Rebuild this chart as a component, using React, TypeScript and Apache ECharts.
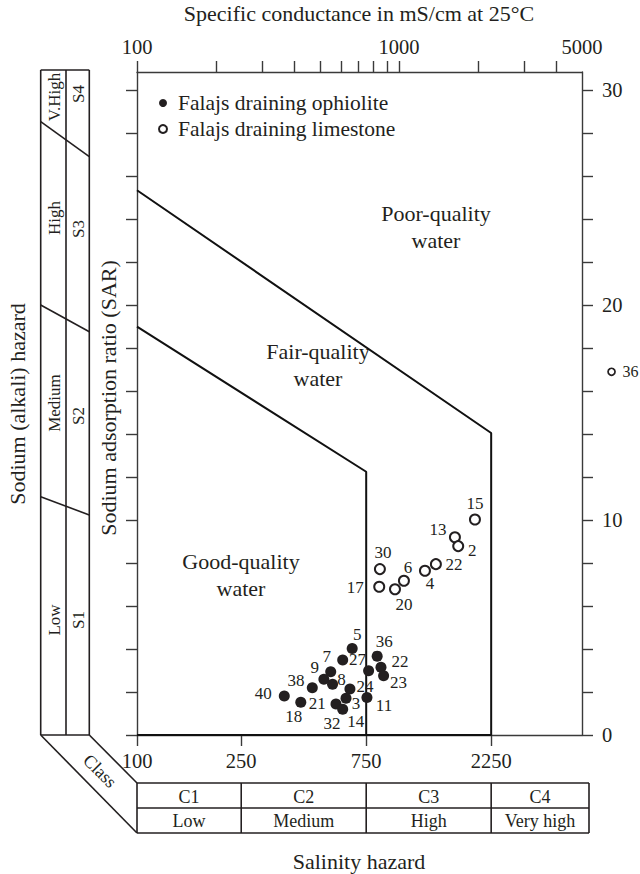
import React, { useEffect, useRef } from 'react';
import * as echarts from 'echarts';

const FONT = '"Liberation Serif", "DejaVu Serif", serif';
const INK = '#231f20';
const FRAME = '#3a3a3a';

// ---- axes ----
const EC_MIN = 100;
const EC_MAX = 5000;
const SAR_MIN = 0;
const SAR_MAX = 30.85;
const topTickValues = [100, 200, 300, 400, 500, 600, 700, 800, 900, 1000, 2000, 3000, 4000];
const topLabelValues = [100, 1000, 5000];
const bottomTickValues = [100, 250, 750, 2250];
const sarTickValues = [0, 2, 4, 6, 8, 10, 12, 14, 16, 18, 20, 22, 24, 26, 28, 30];
const sarLabelValues = [0, 10, 20, 30];

// ---- samples ----
const ophioliteIds = ['5', '7', '27', '36', '22', '23', '9', '38', '8', '21', '24', '3', '11', '32', '14', '18', '40'];
const ophioliteEC = [663, 610, 766, 826, 854, 874, 549, 517, 558, 467, 650, 628, 755, 575, 610, 422, 365];
const ophioliteSAR = [4.03, 3.49, 2.99, 3.67, 3.15, 2.76, 2.94, 2.59, 2.36, 2.2, 2.14, 1.71, 1.75, 1.44, 1.2, 1.52, 1.81];

const limestoneIds = ['15', '13', '2', '22', '4', '30', '6', '20', '17', '36'];
const limestoneEC = [1951, 1636, 1684, 1384, 1257, 846, 1045, 966, 841, 6483];
const limestoneSAR = [10.03, 9.2, 8.79, 7.95, 7.64, 7.72, 7.18, 6.78, 6.9, 16.9];

// ---- water-quality boundaries ----
const goodBoundaryEC = [100, 750, 750];
const goodBoundarySAR = [19.0, 12.25, 0];
const poorBoundaryEC = [100, 2250, 2250, 100];
const poorBoundarySAR = [25.35, 14.05, 0, 0];

// ---- class tables ----
const salinityBreaks = [250, 750, 2250];
const salinityClasses = ['C1', 'C2', 'C3', 'C4'];
const salinityLevels = ['Low', 'Medium', 'High', 'Very high'];
const sodiumClasses = ['S1', 'S2', 'S3', 'S4'];
const sodiumLevels = ['Low', 'Medium', 'High', 'V.High'];

// ---- label placement (style only) ----
const ophLabelOffset: Record<string, [number, number]> = {
  '5': [5, -14], '7': [-16, -3], '27': [-11, -11], '36': [7, -15], '22': [19, -6], '23': [15, 7],
  '9': [-16, -4], '38': [-28, 1], '8': [9, -5], '21': [5, 16], '24': [15, -3], '3': [10, 5],
  '11': [17, 8], '32': [-4, 19], '14': [13, 12], '18': [-7, 14], '40': [-21, -3],
};
const limLabelOffset: Record<string, [number, number]> = {
  '15': [0, -16], '13': [-17, -8], '2': [14, 4], '22': [18, 0], '4': [5, 13], '30': [3, -17],
  '6': [4, -13], '20': [9, 15], '17': [-24, 1], '36': [19, 0],
};

const L = (v: number) => Math.log10(v);

export default function App() {
  const ref = useRef<HTMLDivElement>(null);

  useEffect(() => {
    document.body.style.margin = '0';
    const chart = echarts.init(ref.current!, undefined, { renderer: 'svg' });
    const fmt = (v: number) => String(Math.round(Math.pow(10, v)));
    const axisLine = { show: true, onZero: false, lineStyle: { color: FRAME, width: 1.4 } };
    const tick = (vals: number[]) => ({
      show: true, inside: false, length: 11, customValues: vals,
      lineStyle: { color: FRAME, width: 1.4 },
    });
    const labelStyle = { fontFamily: FONT, fontSize: 20.5, color: INK };

    const pointLabel = (id: string, off: [number, number], size: number) => ({
      show: true, position: 'inside', offset: off, formatter: id,
      fontFamily: FONT, fontSize: size, color: INK, opacity: 1,
    });

    const option: any = {
      animation: false,
      backgroundColor: '#fff',
      grid: { left: 137, right: 58, top: 72, bottom: 139, containLabel: false },
      xAxis: [
        {
          type: 'value', position: 'bottom', min: L(EC_MIN), max: L(EC_MAX),
          axisLine, axisTick: tick(bottomTickValues.map(L)),
          axisLabel: { ...labelStyle, customValues: bottomTickValues.map(L), formatter: fmt, margin: 15 },
          splitLine: { show: false },
        },
        {
          type: 'value', position: 'top', min: L(EC_MIN), max: L(EC_MAX),
          axisLine, axisTick: tick(topTickValues.map(L)),
          axisLabel: { ...labelStyle, customValues: topLabelValues.map(L), formatter: fmt, margin: 15 },
          splitLine: { show: false },
        },
      ],
      yAxis: [
        {
          type: 'value', position: 'left', min: SAR_MIN, max: SAR_MAX,
          axisLine, axisTick: tick(sarTickValues), axisLabel: { show: false }, splitLine: { show: false },
        },
        {
          type: 'value', position: 'right', min: SAR_MIN, max: SAR_MAX,
          axisLine, axisTick: tick(sarTickValues),
          axisLabel: { ...labelStyle, customValues: sarLabelValues, margin: 20 },
          splitLine: { show: false },
        },
      ],
      legend: {
        data: ['Falajs draining ophiolite', 'Falajs draining limestone'],
        orient: 'vertical', left: 153, top: 87, itemGap: 4, itemWidth: 20, itemHeight: 8,
        textStyle: { fontFamily: FONT, fontSize: 21.5, color: INK, lineHeight: 21 },
        selectedMode: false,
      },
      series: [
        {
          name: 'Good boundary', type: 'line', xAxisIndex: 0, yAxisIndex: 0, silent: true,
          symbol: 'none', lineStyle: { color: '#111', width: 2 }, z: 2,
          data: goodBoundaryEC.map((v, i) => [L(v), goodBoundarySAR[i]]),
        },
        {
          name: 'Poor boundary', type: 'line', xAxisIndex: 0, yAxisIndex: 0, silent: true,
          symbol: 'none', lineStyle: { color: '#111', width: 2 }, z: 2,
          data: poorBoundaryEC.map((v, i) => [L(v), poorBoundarySAR[i]]),
        },
        {
          name: 'Falajs draining ophiolite', type: 'scatter', xAxisIndex: 0, yAxisIndex: 0, z: 3,
          symbol: 'circle', symbolSize: 11, itemStyle: { color: INK, opacity: 1 },
          data: ophioliteIds.map((id, i) => ({
            name: id, value: [L(ophioliteEC[i]), ophioliteSAR[i]],
            label: pointLabel(id, ophLabelOffset[id] || [0, -14], 17),
          })),
        },
        {
          name: 'Falajs draining limestone', type: 'scatter', xAxisIndex: 0, yAxisIndex: 0, z: 3,
          clip: false, symbol: 'circle', symbolSize: 10,
          itemStyle: { color: '#fff', borderColor: INK, borderWidth: 2, opacity: 1 },
          data: limestoneIds.map((id, i) => {
            const off = limLabelOffset[id] || [0, -14];
            const outside = limestoneEC[i] > EC_MAX;
            return {
              name: id, value: [L(limestoneEC[i]), limestoneSAR[i]],
              symbolSize: outside ? 7 : 10,
              itemStyle: outside ? { borderWidth: 1.7 } : undefined,
              label: pointLabel(id, off, outside ? 16 : 17),
            };
          }),
        },
      ],
    };
    chart.setOption(option);

    const px = (v: number) => chart.convertToPixel({ xAxisIndex: 0 }, L(v)) as number;
    const ln = (x1: number, y1: number, x2: number, y2: number, w = 1.6) => ({
      type: 'line', silent: true, shape: { x1, y1, x2, y2 }, style: { stroke: INK, lineWidth: w },
    });
    const txt = (text: string, x: number, y: number, size: number, rotation = 0, lineHeight?: number) => ({
      type: 'text', silent: true, x, y, rotation,
      style: {
        text, fontFamily: FONT, fontSize: size, fill: INK,
        align: 'center', verticalAlign: 'middle', textAlign: 'center', textVerticalAlign: 'middle',
        lineHeight: lineHeight || size,
      },
    });

    const g: any[] = [];
    // left sodium hazard box
    const bx = [40.7, 66, 89.3];
    const boxTop = 70;
    const boxBottom = 735;
    bx.forEach((x) => g.push(ln(x, boxTop, x, boxBottom)));
    g.push(ln(bx[0], boxTop, bx[2], boxTop));
    g.push(ln(bx[0], boxBottom, bx[2], boxBottom));
    [[496.7, 515], [305, 331.7], [121.7, 156.7]].forEach(([a, b]) => g.push(ln(bx[0], a, bx[2], b)));
    // perspective edges to the salinity table
    const tLeft = 137;
    const tRight = 589;
    const tTop = 783;
    const tMid = 808;
    const tBottom = 833;
    g.push(ln(bx[0], boxBottom, tLeft, tBottom));
    g.push(ln(bx[2], boxBottom, tLeft, tTop));
    // sodium class labels
    const levelY = [620, 403, 218, 97];
    const classY = [620, 416, 229, 94];
    sodiumLevels.forEach((t, i) => g.push(txt(t, 54, levelY[i], 17, Math.PI / 2)));
    sodiumClasses.forEach((t, i) => g.push(txt(t, 78.5, classY[i], 17, Math.PI / 2)));
    g.push(txt('Sodium (alkali) hazard', 17, 404, 22, Math.PI / 2));
    g.push(txt('Sodium adsorption ratio (SAR)', 108, 398, 22, Math.PI / 2));
    g.push(txt('Class', 100, 771, 18, -Math.PI / 4));

    // salinity table
    const cols = [tLeft, ...salinityBreaks.map(px), tRight];
    g.push(ln(tLeft, tTop, tRight, tTop));
    g.push(ln(tLeft, tMid, tRight, tMid));
    g.push(ln(tLeft, tBottom, tRight, tBottom));
    cols.forEach((x) => g.push(ln(x, tTop, x, tBottom)));
    salinityClasses.forEach((t, i) => g.push(txt(t, (cols[i] + cols[i + 1]) / 2, 796.5, 18)));
    salinityLevels.forEach((t, i) => g.push(txt(t, (cols[i] + cols[i + 1]) / 2, 820.5, 18)));
    g.push(txt('Salinity hazard', 359, 861, 22));
    g.push(txt('Specific conductance in mS/cm at 25°C', 359, 13, 22));

    // region labels
    g.push(txt('Poor-quality\nwater', 436, 227, 22, 0, 27));
    g.push(txt('Fair-quality\nwater', 318, 365, 22, 0, 27));
    g.push(txt('Good-quality\nwater', 241, 575, 22, 0, 27));

    chart.setOption({ graphic: g });

    return () => chart.dispose();
  }, []);

  return <div ref={ref} style={{ width: 640, height: 874 }} />;
}
